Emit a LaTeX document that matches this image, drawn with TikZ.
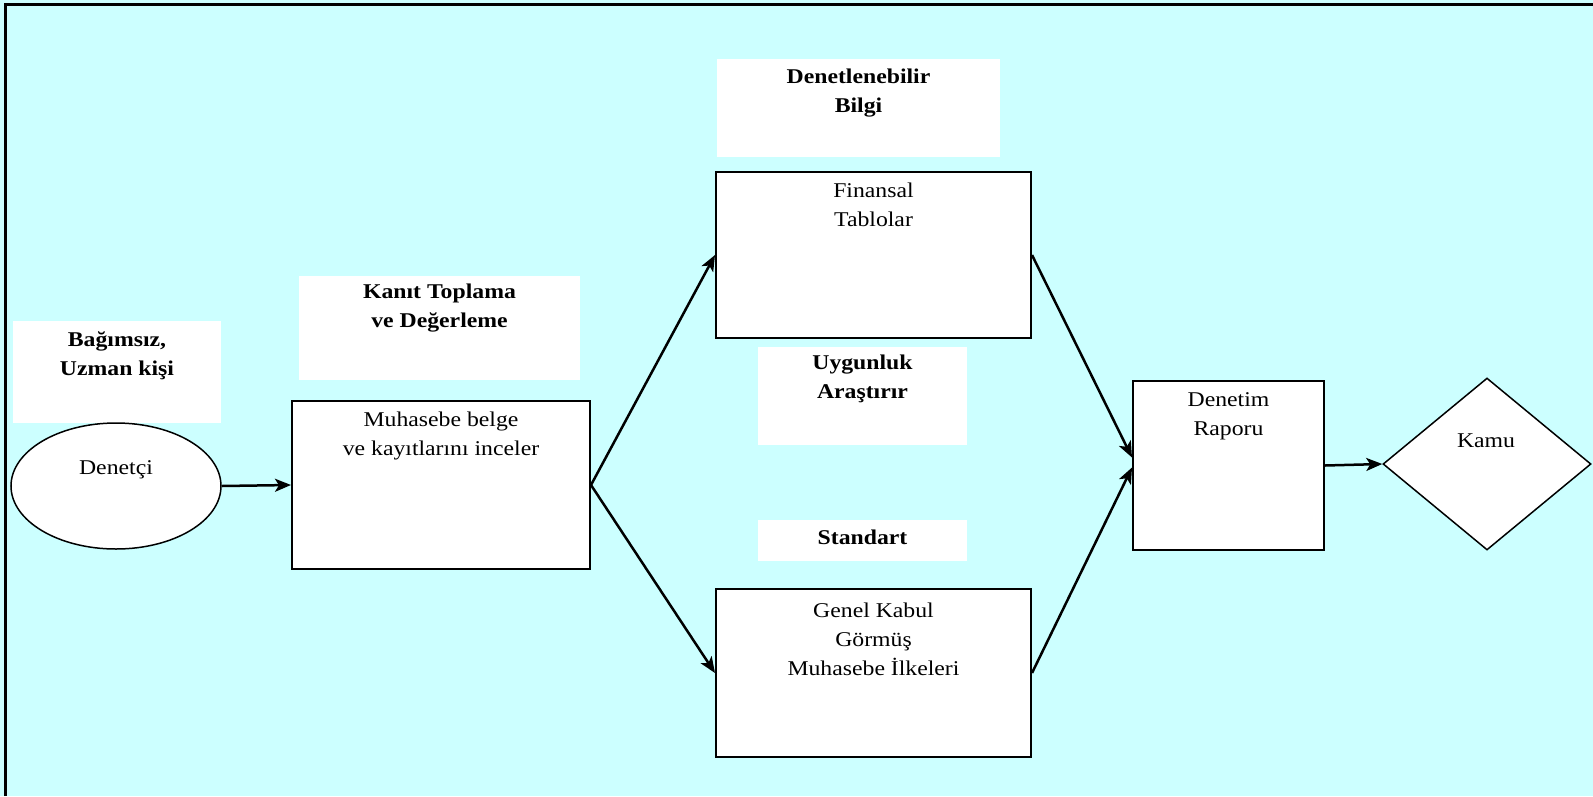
\documentclass[tikz,border=0pt]{standalone}
\usepackage{fontspec}
\setmainfont[FakeStretch=1.13]{Liberation Serif}
\usetikzlibrary{shapes.geometric,arrows.meta,calc}
\definecolor{paper}{HTML}{CCFFFF}
\begin{document}
\begin{tikzpicture}[x=1pt,y=-1pt,
  box/.style={draw=black,fill=white,line width=2pt,inner sep=0pt},
  tag/.style={fill=white,inner sep=0pt},
  txt/.style={align=center,inner sep=0pt,anchor=north,font=\fontsize{21}{29}\selectfont},
  btxt/.style={txt,font=\fontsize{21}{29}\selectfont\bfseries},
  flow/.style={line width=2.5pt,-{Stealth[length=16pt,width=13pt,inset=4pt]}}]
% page background and frame
\fill[paper] (0,0) rectangle (1593,796);
\useasboundingbox (0,0) rectangle (1593,796);
\draw[line width=2.5pt] (5.5,796) -- (5.5,4.5) -- (1593,4.5);

% white caption panels
\node[tag,minimum width=208pt,minimum height=102pt] (tagA) at (117,372) {};
\node[tag,minimum width=281pt,minimum height=104pt] (tagB) at (439.5,328) {};
\node[tag,minimum width=283pt,minimum height=98pt] (tagC) at (858.5,108) {};
\node[tag,minimum width=209pt,minimum height=98pt] (tagD) at (862.5,396) {};
\node[tag,minimum width=209pt,minimum height=41pt] (tagE) at (862.5,540.5) {};

\node[btxt] (tagAtext) at (117,331) {Bağımsız,\\Uzman kişi};
\node[btxt] (tagBtext) at (439.5,284) {Kanıt Toplama\\ve Değerleme};
\node[btxt] (tagCtext) at (858.5,69) {Denetlenebilir\\Bilgi};
\node[btxt] (tagDtext) at (862.5,355) {Uygunluk\\Araştırır};
\node[btxt] (tagEtext) at (862.5,530) {Standart};

% process shapes
\node[draw=black,fill=white,ellipse,line width=1.5pt,inner sep=0pt,
      minimum width=210pt,minimum height=126pt] (aud) at (116,486) {};
\node[box,minimum width=298pt,minimum height=168pt] (muh) at (441,485) {};
\node[box,minimum width=315pt,minimum height=166pt] (fin) at (873.5,255) {};
\node[box,minimum width=315pt,minimum height=168pt] (gen) at (873.5,673) {};
\node[box,minimum width=191pt,minimum height=169pt] (den) at (1228.5,465.5) {};
\node[draw=black,fill=white,diamond,line width=1.5pt,inner sep=0pt,
      minimum width=208pt,minimum height=172pt] (kamu) at (1487,464) {};

\node[txt] (audtext) at (116,460) {Denetçi};
\node[txt] (muhtext) at (441,412) {Muhasebe belge\\ve kayıtlarını inceler};
\node[txt] (fintext) at (873.5,183) {Finansal\\Tablolar};
\node[txt] (gentext) at (873.5,603) {Genel Kabul\\Görmüş\\Muhasebe İlkeleri};
\node[txt] (dentext) at (1228.5,392) {Denetim\\Raporu};
\node[txt] (kamutext) at (1486,434) {Kamu};

% flow arrows
\draw[flow] (aud.east) -- (muh.west);
\draw[flow] (muh.east) -- (fin.west);
\draw[flow] (muh.east) -- (gen.west);
\draw[flow] (fin.east) -- ($(den.west)+(0,-8)$);
\draw[flow] (gen.east) -- ($(den.west)+(0,2)$);
\draw[flow] (den.east) -- (kamu.west);
\end{tikzpicture}
\end{document}
